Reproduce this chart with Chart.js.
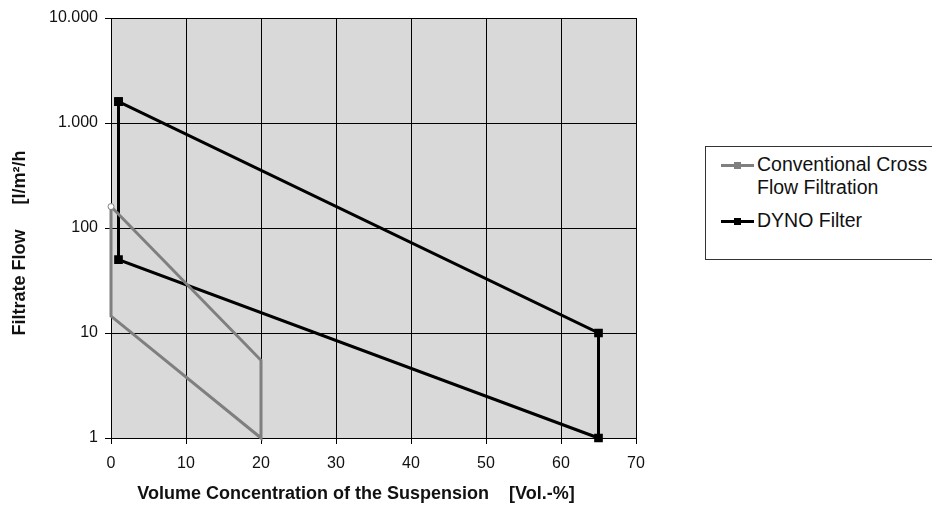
<!DOCTYPE html>
<html>
<head>
<meta charset="utf-8">
<script src="https://cdn.jsdelivr.net/npm/chart.js@4.4.0/dist/chart.umd.min.js"></script>
<style>
  body { margin: 0; background: #fff; }
  #wrap { position: relative; width: 932px; height: 508px; overflow: hidden; }
  #legend {
    position: absolute; left: 705px; top: 146px; width: 250px; height: 114px;
    border: 1px solid #333; box-sizing: border-box; background: #fff;
    font-family: "Liberation Sans", Arial, sans-serif; font-size: 19.5px; color: #111;
  }
  .item { position: absolute; left: 15px; display: flex; align-items: flex-start; white-space: nowrap; }
  .sym { position: relative; width: 33px; height: 3px; margin-top: 10px; margin-right: 3px; }
  .sym i { position: absolute; left: 13px; top: -2px; width: 7px; height: 7px; }
  .txt { line-height: 23px; margin-top: -1px; }
</style>
</head>
<body>
<div id="wrap">
  <canvas id="flowChart" width="932" height="508"></canvas>
  <div id="legend"></div>
</div>
<script>
// series data
var seriesNames = ["Conventional Cross\nFlow Filtration", "DYNO Filter"];
var convX = [0, 20, 20, 0, 0];
var convY = [160, 5.5, 1, 14.5, 160];
var dynoX = [1, 1, 65, 65, 1];
var dynoY = [1600, 50, 1, 10, 1600];
var yTicks = [1, 10, 100, 1000, 10000];
var yTickLabels = ["1", "10", "100", "1.000", "10.000"];

function toPoints(xs, ys) {
  return xs.map(function (x, i) { return { x: x, y: ys[i] }; });
}

var plotBg = {
  id: 'plotBg',
  beforeDraw: function (chart) {
    var a = chart.chartArea, c = chart.ctx;
    c.save();
    c.fillStyle = '#d9d9d9';
    c.fillRect(a.left, a.top, a.right - a.left, a.bottom - a.top);
    c.restore();
  }
};

var font = "'Liberation Sans', Arial, sans-serif";
var ctx = document.getElementById("flowChart").getContext('2d');
var chart = new Chart(ctx, {
  type: 'scatter',
  data: {
    datasets: [{
      label: seriesNames[0],
      data: toPoints(convX, convY),
      showLine: true,
      borderColor: '#7f7f7f',
      borderWidth: 3,
      pointRadius: [3, 0, 0, 0, 0],
      pointBackgroundColor: '#fff',
      pointBorderColor: '#7f7f7f',
      pointBorderWidth: 1,
      clip: 6
    }, {
      label: seriesNames[1],
      data: toPoints(dynoX, dynoY),
      showLine: true,
      borderColor: '#000',
      borderWidth: 3,
      pointStyle: 'rect',
      pointRadius: 4,
      pointBackgroundColor: '#000',
      pointBorderColor: '#000',
      clip: 6
    }]
  },
  options: {
    responsive: false,
    animation: false,
    layout: { padding: { left: 0, top: 18, right: 296, bottom: 0 } },
    plugins: {
      legend: { display: false },
      tooltip: { enabled: false }
    },
    scales: {
      x: {
        type: 'linear', min: 0, max: 70,
        ticks: { stepSize: 10, color: '#111', font: { family: font, size: 16 }, padding: 10 },
        grid: { color: '#000', lineWidth: 1, tickLength: 6 },
        border: { color: '#000', width: 1 },
        title: {
          display: true,
          text: 'Volume Concentration of the Suspension    [Vol.-%]' + '\u00a0'.repeat(7),
          color: '#111', font: { family: font, size: 18, weight: 'bold' },
          padding: { top: 4, bottom: 3 }
        },
        afterFit: function (s) { s.height = 70; }
      },
      y: {
        type: 'logarithmic', min: 1, max: 10000,
        afterBuildTicks: function (s) { s.ticks = yTicks.map(function (v) { return { value: v }; }); },
        ticks: {
          color: '#111', font: { family: font, size: 16 }, padding: 7,
          callback: function (v) { return yTickLabels[yTicks.indexOf(v)]; }
        },
        grid: { color: '#000', lineWidth: 1, tickLength: 6 },
        border: { color: '#000', width: 1 },
        title: {
          display: true,
          text: 'Filtrate Flow' + '\u00a0'.repeat(5) + '[l/m²/h' + '\u00a0'.repeat(6),
          color: '#111', font: { family: font, size: 18, weight: 'bold' },
          padding: { top: 9, bottom: 0 }
        },
        afterFit: function (s) { s.width = 111; }
      }
    }
  },
  plugins: [plotBg]
});

// html legend
var legendStyles = [
  { color: '#7f7f7f', top: 7 },
  { color: '#000', top: 63 }
];
var legend = document.getElementById('legend');
chart.data.datasets.forEach(function (ds, i) {
  var item = document.createElement('div');
  item.className = 'item';
  item.style.top = legendStyles[i].top + 'px';
  var sym = document.createElement('span');
  sym.className = 'sym';
  sym.style.background = legendStyles[i].color;
  var mk = document.createElement('i');
  mk.style.background = legendStyles[i].color;
  sym.appendChild(mk);
  var txt = document.createElement('span');
  txt.className = 'txt';
  txt.innerHTML = ds.label.replace('\n', '<br>');
  item.appendChild(sym);
  item.appendChild(txt);
  legend.appendChild(item);
});
</script>
</body>
</html>
